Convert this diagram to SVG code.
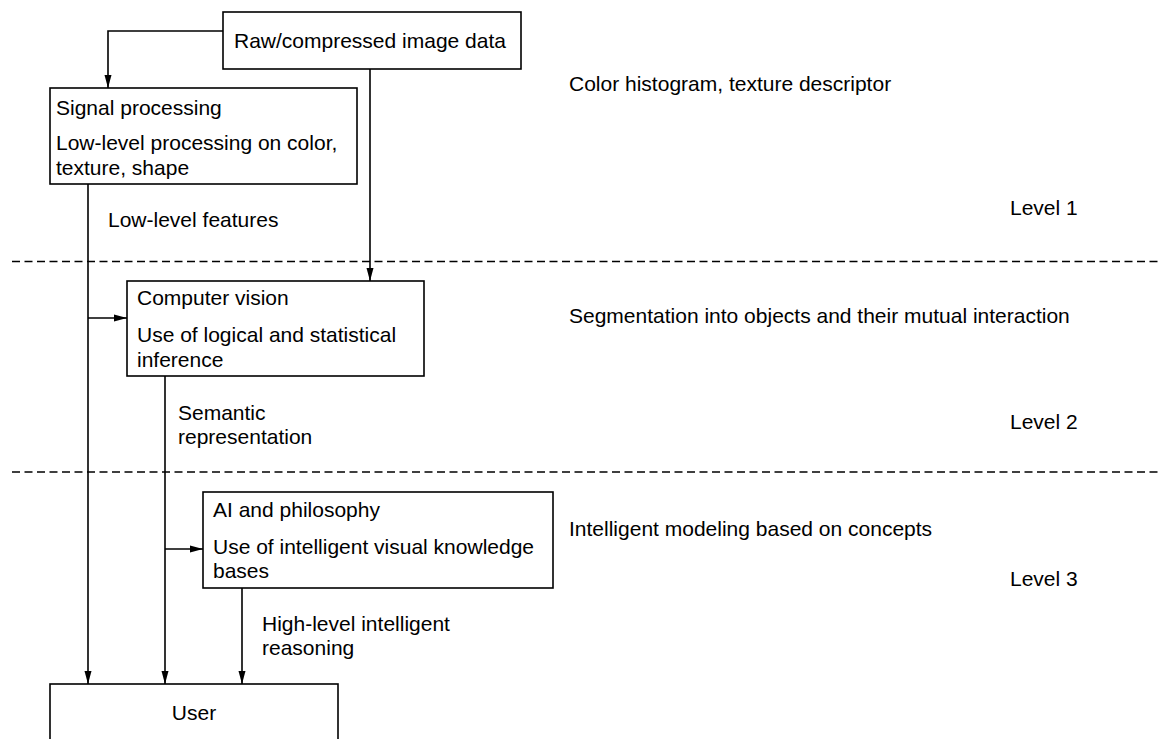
<svg xmlns="http://www.w3.org/2000/svg" width="1160" height="739" viewBox="0 0 1160 739">
<style>
text{font-family:"Liberation Sans",Arial,Helvetica,sans-serif;font-size:21px;fill:#000}
.box{fill:#fff;stroke:#000;stroke-width:1.6}
.conn{fill:none;stroke:#000;stroke-width:1.6}
.dash{fill:none;stroke:#000;stroke-width:1.3;stroke-dasharray:8 4.5}
</style>
<defs>
<marker id="ah" markerUnits="userSpaceOnUse" markerWidth="14" markerHeight="9" refX="13" refY="4.5" orient="auto">
<path d="M0,1 L13,4.5 L0,8 z" fill="#000"/>
</marker>
</defs>
<rect width="1160" height="739" fill="#fff"/>
<g id="dividers">
<line class="dash" x1="12" y1="261.5" x2="1160" y2="261.5"/>
<line class="dash" x1="12" y1="472" x2="1160" y2="472"/>
</g>
<g id="connectors">
<path class="conn" d="M223,31 H108 V88" marker-end="url(#ah)"/>
<path class="conn" d="M370,69 V281" marker-end="url(#ah)"/>
<path class="conn" d="M88,184 V684" marker-end="url(#ah)"/>
<path class="conn" d="M88,318 H127" marker-end="url(#ah)"/>
<path class="conn" d="M165,376 V684" marker-end="url(#ah)"/>
<path class="conn" d="M165,549 H203" marker-end="url(#ah)"/>
<path class="conn" d="M242,588 V684" marker-end="url(#ah)"/>
</g>
<g id="raw">
<rect class="box" x="223" y="12" width="298" height="57"/>
<text x="234" y="48">Raw/compressed image data</text>
</g>
<g id="signal">
<rect class="box" x="50" y="88" width="307" height="96"/>
<text x="56" y="115">Signal processing</text>
<text x="56" y="150">Low-level processing on color,</text>
<text x="56" y="175">texture, shape</text>
</g>
<g id="vision">
<rect class="box" x="127" y="281" width="297" height="95"/>
<text x="137" y="305">Computer vision</text>
<text x="137" y="342">Use of logical and statistical</text>
<text x="137" y="367">inference</text>
</g>
<g id="ai">
<rect class="box" x="203" y="492" width="350" height="96"/>
<text x="213" y="517">AI and philosophy</text>
<text x="213" y="554">Use of intelligent visual knowledge</text>
<text x="213" y="578">bases</text>
</g>
<g id="user">
<rect class="box" x="50" y="684" width="288" height="70"/>
<text x="194" y="720" text-anchor="middle">User</text>
</g>
<g id="labels">
<text x="108" y="227">Low-level features</text>
<text x="178" y="420">Semantic</text>
<text x="178" y="444">representation</text>
<text x="262" y="631">High-level intelligent</text>
<text x="262" y="655">reasoning</text>
<text x="569" y="91">Color histogram, texture descriptor</text>
<text x="1010" y="215">Level 1</text>
<text x="569" y="323">Segmentation into objects and their mutual interaction</text>
<text x="1010" y="429">Level 2</text>
<text x="569" y="536">Intelligent modeling based on concepts</text>
<text x="1010" y="586">Level 3</text>
</g>
</svg>
